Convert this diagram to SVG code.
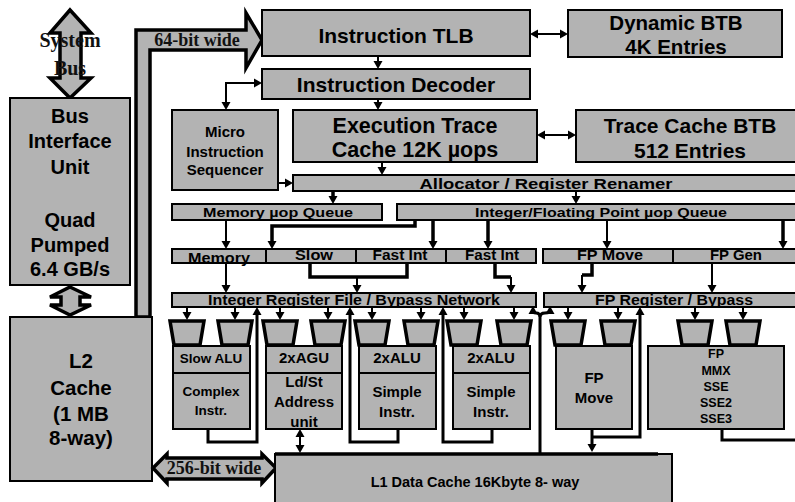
<svg xmlns="http://www.w3.org/2000/svg" xmlns:xlink="http://www.w3.org/1999/xlink" width="795" height="502" viewBox="0 0 795 502">
<style>
.box{fill:#b3b3b3;stroke:#000;stroke-width:2}
.big{fill:#b3b3b3;stroke:#000;stroke-width:3.5;stroke-linejoin:miter}
.trap{fill:#b3b3b3;stroke:#000;stroke-width:3.5;stroke-linejoin:miter}
.t{font-family:"Liberation Sans",Arial,sans-serif;font-weight:bold;fill:#000;text-anchor:middle}
.s{font-family:"Liberation Serif","Times New Roman",serif;font-weight:bold;fill:#111;text-anchor:middle}
.ln{fill:none;stroke:#000;stroke-width:2}
.tk{fill:none;stroke:#000;stroke-width:3.5}
.md{fill:none;stroke:#000;stroke-width:3}
.hd{fill:#000}
</style>
<defs>
<path id="h" class="hd" d="M0,0 L-4.5,-8 L4.5,-8 Z"/>
</defs>

<g id="system-bus">
<polygon class="big" points="70,10 91,33 81,33 81,78 91,78 70,98 50,78 60,78 60,33 50,33"/>
<text class="s" x="70" y="47" font-size="20">System</text>
<text class="s" x="70" y="75" font-size="20">Bus</text>
</g>

<g id="biu">
<rect class="box" x="10" y="98" width="120" height="187"/>
<text class="t" x="70" y="123" font-size="20">Bus</text>
<text class="t" x="70" y="148" font-size="20">Interface</text>
<text class="t" x="70" y="174" font-size="20">Unit</text>
<text class="t" x="70" y="227" font-size="20">Quad</text>
<text class="t" x="70" y="252" font-size="20">Pumped</text>
<text class="t" x="70" y="276" font-size="20">6.4 GB/s</text>
</g>

<g id="biu-l2-link">
<polygon class="big" stroke-width="3" points="70,287 91,297 80,297 80,305 91,305 70,315 50,305 61,305 61,297 50,297"/>
</g>

<g id="bus-64">
<polygon class="big" points="136,30 246,30 246,13 262,40 246,68 246,50 150,50 150,317 136,317"/>
<text class="s" x="197" y="46" font-size="18">64-bit wide</text>
</g>

<g id="l2">
<rect class="box" x="10" y="317" width="142" height="164"/>
<text class="t" x="81" y="368" font-size="20.5">L2</text>
<text class="t" x="81" y="395" font-size="20.5">Cache</text>
<text class="t" x="81" y="421" font-size="20.5">(1 MB</text>
<text class="t" x="81" y="445" font-size="20.5">8-way)</text>
</g>

<g id="bus-256">
<polygon class="big" points="153,468 167,454 167,458 262,458 262,454 276,468 262,483 262,479 167,479 167,483"/>
<text class="s" x="214" y="474" font-size="18">256-bit wide</text>
</g>

<g id="itlb">
<rect class="box" x="262" y="10" width="268" height="46"/>
<text class="t" x="396" y="43" font-size="21">Instruction TLB</text>
</g>

<g id="dbtb">
<rect class="box" x="568" y="10" width="214" height="47"/>
<text class="t" x="676" y="30" font-size="20.5">Dynamic BTB</text>
<text class="t" x="676" y="54" font-size="20.5">4K Entries</text>
</g>

<g id="idec">
<rect class="box" x="262" y="69" width="268" height="30"/>
<text class="t" x="396" y="92" font-size="21">Instruction Decoder</text>
</g>

<g id="mis">
<rect class="box" x="172" y="110" width="106" height="80"/>
<text class="t" x="225" y="137" font-size="15">Micro</text>
<text class="t" x="225" y="157" font-size="15">Instruction</text>
<text class="t" x="225" y="175" font-size="15">Sequencer</text>
</g>

<g id="etc">
<rect class="box" x="293" y="110" width="244" height="52"/>
<text class="t" x="415" y="133" font-size="21.5">Execution Trace</text>
<text class="t" x="415" y="157" font-size="21.5">Cache 12K µops</text>
</g>

<g id="tcbtb">
<rect class="box" x="576" y="110" width="230" height="52"/>
<text class="t" x="690" y="133" font-size="21">Trace Cache BTB</text>
<text class="t" x="690" y="158" font-size="21">512 Entries</text>
</g>

<g id="alloc">
<rect class="box" x="293" y="175" width="512" height="16"/>
<text class="t" x="546" y="189" font-size="14" textLength="253" lengthAdjust="spacingAndGlyphs">Allocator / Register Renamer</text>
</g>

<g id="mem-queue">
<rect class="box" x="172" y="204" width="210" height="16"/>
<text class="t" x="278" y="217" font-size="13.5" textLength="150" lengthAdjust="spacingAndGlyphs">Memory µop Queue</text>
</g>

<g id="intfp-queue">
<rect class="box" x="397" y="204" width="408" height="16"/>
<text class="t" x="601" y="217" font-size="13.5" textLength="252" lengthAdjust="spacingAndGlyphs">Integer/Floating Point µop Queue</text>
</g>

<g id="sched-memory">
<rect class="box" x="172" y="249" width="94" height="14"/>
<text class="t" x="219" y="263" font-size="14" textLength="62" lengthAdjust="spacingAndGlyphs">Memory</text>
</g>
<g id="sched-slow">
<rect class="box" x="266" y="249" width="90" height="14"/>
<text class="t" x="314" y="260" font-size="14" textLength="38" lengthAdjust="spacingAndGlyphs">Slow</text>
</g>
<g id="sched-fast1">
<rect class="box" x="356" y="249" width="90" height="14"/>
<text class="t" x="400" y="260" font-size="14" textLength="55" lengthAdjust="spacingAndGlyphs">Fast Int</text>
</g>
<g id="sched-fast2">
<rect class="box" x="446" y="249" width="90" height="14"/>
<text class="t" x="492" y="260" font-size="14" textLength="54" lengthAdjust="spacingAndGlyphs">Fast Int</text>
</g>
<g id="sched-fpmove">
<rect class="box" x="543" y="249" width="130" height="14"/>
<text class="t" x="610" y="260" font-size="14" textLength="66" lengthAdjust="spacingAndGlyphs">FP Move</text>
</g>
<g id="sched-fpgen">
<rect class="box" x="673" y="249" width="132" height="14"/>
<text class="t" x="736" y="260" font-size="14" textLength="52" lengthAdjust="spacingAndGlyphs">FP Gen</text>
</g>

<g id="int-regfile">
<rect class="box" x="172" y="293" width="364" height="14"/>
<text class="t" x="354" y="305" font-size="14" textLength="292" lengthAdjust="spacingAndGlyphs">Integer Register File / Bypass Network</text>
</g>
<g id="fp-regfile">
<rect class="box" x="544" y="293" width="260" height="14"/>
<text class="t" x="674" y="305" font-size="14" textLength="158" lengthAdjust="spacingAndGlyphs">FP Register / Bypass</text>
</g>

<g id="unit-slow-alu">
<polygon class="trap" points="170,321 204,321 200,345 174,345"/>
<polygon class="trap" points="218,321 252,321 248,345 222,345"/>
<rect class="box" x="173" y="346" width="77" height="83"/>
<line class="ln" x1="173" y1="373" x2="250" y2="373"/>
<text class="t" x="211" y="363" font-size="13.5">Slow ALU</text>
<text class="t" x="211" y="396" font-size="13.5">Complex</text>
<text class="t" x="211" y="415" font-size="13.5">Instr.</text>
</g>

<g id="unit-agu">
<polygon class="trap" points="263,321 297,321 293,345 267,345"/>
<polygon class="trap" points="311,321 345,321 341,345 315,345"/>
<rect class="box" x="266" y="346" width="76" height="83"/>
<line class="ln" x1="266" y1="373" x2="342" y2="373"/>
<text class="t" x="304" y="363" font-size="15">2xAGU</text>
<text class="t" x="304" y="387" font-size="15">Ld/St</text>
<text class="t" x="304" y="407" font-size="15">Address</text>
<text class="t" x="304" y="427" font-size="15">unit</text>
</g>

<g id="unit-alu1">
<polygon class="trap" points="355,321 389,321 385,345 359,345"/>
<polygon class="trap" points="404,321 438,321 434,345 408,345"/>
<rect class="box" x="359" y="346" width="77" height="83"/>
<line class="ln" x1="359" y1="373" x2="436" y2="373"/>
<text class="t" x="397" y="363" font-size="15">2xALU</text>
<text class="t" x="397" y="397" font-size="15">Simple</text>
<text class="t" x="397" y="417" font-size="15">Instr.</text>
</g>

<g id="unit-alu2">
<polygon class="trap" points="447,321 481,321 477,345 451,345"/>
<polygon class="trap" points="497,321 531,321 527,345 501,345"/>
<rect class="box" x="453" y="346" width="77" height="83"/>
<line class="ln" x1="453" y1="373" x2="530" y2="373"/>
<text class="t" x="491" y="363" font-size="15">2xALU</text>
<text class="t" x="491" y="397" font-size="15">Simple</text>
<text class="t" x="491" y="417" font-size="15">Instr.</text>
</g>

<g id="unit-fpmove">
<polygon class="trap" points="551,321 585,321 581,345 555,345"/>
<polygon class="trap" points="601,321 635,321 631,345 605,345"/>
<rect class="box" x="556" y="346" width="76" height="83"/>
<text class="t" x="594" y="383" font-size="15">FP</text>
<text class="t" x="594" y="403" font-size="15">Move</text>
</g>

<g id="unit-fp">
<polygon class="trap" points="678,321 712,321 708,345 682,345"/>
<polygon class="trap" points="726,321 760,321 756,345 730,345"/>
<rect class="box" x="648" y="346" width="136" height="83"/>
<text class="t" x="716" y="358" font-size="12.5">FP</text>
<text class="t" x="716" y="375" font-size="12.5">MMX</text>
<text class="t" x="716" y="391" font-size="12.5">SSE</text>
<text class="t" x="716" y="407" font-size="12.5">SSE2</text>
<text class="t" x="716" y="423" font-size="12.5">SSE3</text>
</g>

<g id="l1">
<rect class="box" x="275" y="454" width="397" height="56"/>
<line class="tk" x1="275" y1="454" x2="658" y2="454"/>
<text class="t" x="475" y="487" font-size="14.5">L1 Data Cache 16Kbyte 8- way</text>
</g>

<g id="connectors">
<!-- TLB <-> Dynamic BTB -->
<line class="ln" x1="534" y1="34" x2="564" y2="34"/>
<use xlink:href="#h" transform="translate(530,34) rotate(90)"/>
<use xlink:href="#h" transform="translate(568,34) rotate(-90)"/>
<!-- TLB -> Decoder -->
<line class="ln" x1="378" y1="56" x2="378" y2="65"/>
<use xlink:href="#h" transform="translate(378,69)"/>
<!-- Decoder -> ETC -->
<line class="ln" x1="378" y1="99" x2="378" y2="106"/>
<use xlink:href="#h" transform="translate(378,110)"/>
<!-- Decoder <-> MIS -->
<path class="ln" d="M258,83 H226 V106"/>
<use xlink:href="#h" transform="translate(262,83) rotate(-90)"/>
<use xlink:href="#h" transform="translate(226,110)"/>
<!-- ETC <-> TC BTB -->
<line class="ln" x1="541" y1="135" x2="572" y2="135"/>
<use xlink:href="#h" transform="translate(537,135) rotate(90)"/>
<use xlink:href="#h" transform="translate(576,135) rotate(-90)"/>
<!-- ETC -> Alloc -->
<line class="ln" x1="382" y1="162" x2="382" y2="171"/>
<use xlink:href="#h" transform="translate(382,175)"/>
<!-- MIS -> Alloc -->
<line class="ln" x1="278" y1="183" x2="289" y2="183"/>
<use xlink:href="#h" transform="translate(293,183) rotate(-90)"/>
<!-- Alloc -> queues -->
<line class="tk" x1="333" y1="191" x2="333" y2="199"/>
<use xlink:href="#h" transform="translate(333,204)"/>
<line class="ln" x1="576" y1="191" x2="576" y2="200"/>
<use xlink:href="#h" transform="translate(576,204)"/>
<!-- queues -> schedulers -->
<line class="ln" x1="226" y1="220" x2="226" y2="245"/>
<use xlink:href="#h" transform="translate(226,249)"/>
<path class="tk" d="M415,220 V226 H272 V244"/>
<use xlink:href="#h" transform="translate(272,249)"/>
<line class="tk" x1="433" y1="220" x2="433" y2="244"/>
<use xlink:href="#h" transform="translate(433,249)"/>
<line class="tk" x1="488" y1="220" x2="488" y2="244"/>
<use xlink:href="#h" transform="translate(488,249)"/>
<line class="ln" x1="607" y1="220" x2="607" y2="245"/>
<use xlink:href="#h" transform="translate(607,249)"/>
<line class="tk" x1="783" y1="220" x2="783" y2="244"/>
<use xlink:href="#h" transform="translate(783,249)"/>
<!-- schedulers -> register files -->
<line class="ln" x1="226" y1="263" x2="226" y2="289"/>
<use xlink:href="#h" transform="translate(226,293)"/>
<path class="tk" d="M310,263 V277 H407 V263"/>
<line class="ln" x1="357" y1="277" x2="357" y2="289"/>
<use xlink:href="#h" transform="translate(357,293)"/>
<path class="tk" d="M495,263 V277 H511"/>
<line class="ln" x1="511" y1="277" x2="511" y2="289"/>
<use xlink:href="#h" transform="translate(511,293)"/>
<path class="tk" d="M592,263 V275 H582"/>
<line class="ln" x1="582" y1="275" x2="582" y2="289"/>
<use xlink:href="#h" transform="translate(582,293)"/>
<line class="ln" x1="712" y1="263" x2="712" y2="289"/>
<use xlink:href="#h" transform="translate(712,293)"/>
<!-- register files -> ports -->
<g class="ln">
<line x1="187" y1="307" x2="187" y2="316"/>
<line x1="235" y1="307" x2="235" y2="316"/>
<line x1="280" y1="307" x2="280" y2="316"/>
<line x1="328" y1="307" x2="328" y2="316"/>
<line x1="372" y1="307" x2="372" y2="316"/>
<line x1="421" y1="307" x2="421" y2="316"/>
<line x1="464" y1="307" x2="464" y2="316"/>
<line x1="514" y1="307" x2="514" y2="316"/>
<line x1="568" y1="307" x2="568" y2="316"/>
<line x1="618" y1="307" x2="618" y2="316"/>
<line x1="695" y1="307" x2="695" y2="316"/>
<line x1="743" y1="307" x2="743" y2="316"/>
</g>
<use xlink:href="#h" transform="translate(187,320)"/>
<use xlink:href="#h" transform="translate(235,320)"/>
<use xlink:href="#h" transform="translate(280,320)"/>
<use xlink:href="#h" transform="translate(328,320)"/>
<use xlink:href="#h" transform="translate(372,320)"/>
<use xlink:href="#h" transform="translate(421,320)"/>
<use xlink:href="#h" transform="translate(464,320)"/>
<use xlink:href="#h" transform="translate(514,320)"/>
<use xlink:href="#h" transform="translate(568,320)"/>
<use xlink:href="#h" transform="translate(618,320)"/>
<use xlink:href="#h" transform="translate(695,320)"/>
<use xlink:href="#h" transform="translate(743,320)"/>
<!-- unit results back to register files -->
<path class="md" d="M208,429 V442 H257 V312"/>
<use xlink:href="#h" transform="translate(257,307) rotate(180)"/>
<path class="md" d="M398,429 V442 H350 V312"/>
<use xlink:href="#h" transform="translate(350,307) rotate(180)"/>
<path class="md" d="M492,429 V442 H443 V312"/>
<use xlink:href="#h" transform="translate(443,307) rotate(180)"/>
<!-- AGU <-> L1 -->
<line class="ln" x1="300" y1="433" x2="300" y2="449"/>
<use xlink:href="#h" transform="translate(300,429) rotate(180)"/>
<use xlink:href="#h" transform="translate(300,453)"/>
<!-- FP Move -> L1 and back -->
<line class="md" x1="592" y1="429" x2="592" y2="447"/>
<use xlink:href="#h" transform="translate(592,452)"/>
<path class="md" d="M592,437 H640 V312"/>
<use xlink:href="#h" transform="translate(640,307) rotate(180)"/>
<!-- FP unit output -->
<path class="md" d="M722,429 V440 H800"/>
<!-- L1 fork to both register files -->
<path class="md" d="M540,453 V317 Q540,313 536,313 Q533,313 533,311"/>
<path class="md" d="M540,317 Q540,313 545,313 Q550,313 550,311"/>
<use xlink:href="#h" transform="translate(533,306) rotate(180)"/>
<use xlink:href="#h" transform="translate(550,306) rotate(180)"/>
</g>
</svg>
